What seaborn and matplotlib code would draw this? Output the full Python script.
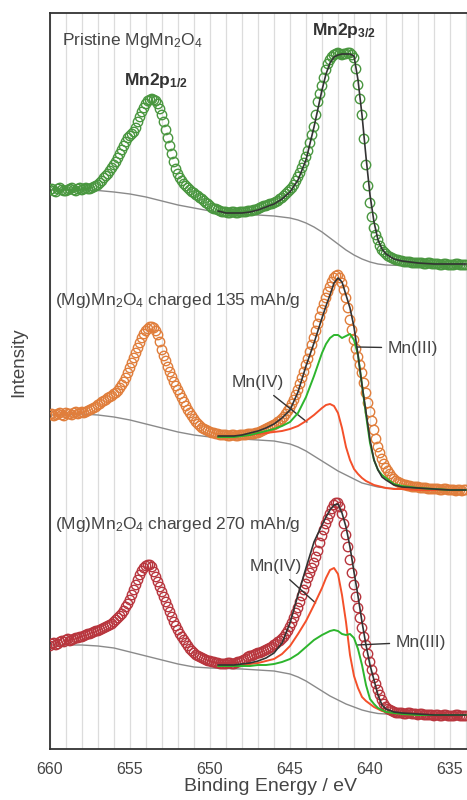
import numpy as np
import pandas as pd
import matplotlib
matplotlib.use("Agg")
import matplotlib.pyplot as plt
from matplotlib.ticker import MultipleLocator
import seaborn as sns

# ---------------- data (binding energy in eV, intensity in arbitrary units) ----------------
energy_start, energy_stop, energy_step = 660.0, 634.0, 0.125

pristine_counts = [
    559, 560, 558, 557, 560, 561, 559, 558,
    558, 559, 560, 561, 559, 558, 560, 561,
    559, 560, 561, 560, 560, 561, 562, 563,
    564, 566, 568, 571, 573, 575, 578, 581,
    584, 587, 591, 595, 599, 603, 607, 611,
    613, 615, 617, 621, 627, 632, 637, 641,
    645, 648, 649, 650, 649, 648, 645, 640,
    634, 627, 619, 611, 603, 595, 587, 580,
    575, 571, 568, 565, 563, 561, 559, 557,
    556, 554, 553, 551, 550, 548, 546, 545,
    543, 541, 540, 540, 539, 538, 537, 537,
    537, 536, 536, 537, 537, 536, 536, 537,
    537, 537, 537, 538, 538, 538, 539, 539,
    540, 541, 542, 543, 543, 544, 545, 545,
    546, 547, 548, 550, 551, 553, 555, 557,
    559, 561, 564, 568, 572, 576, 581, 586,
    592, 598, 606, 614, 622, 634, 647, 655,
    663, 671, 679, 685, 689, 692, 694, 695,
    696, 695, 694, 695, 695, 696, 696, 694,
    691, 680, 664, 650, 634, 610, 584, 563,
    546, 532, 521, 514, 509, 503, 499, 497,
    495, 493, 492, 491, 490, 489, 489, 488,
    488, 487, 487, 487, 487, 486, 486, 486,
    486, 486, 486, 485, 485, 486, 486, 485,
    485, 485, 485, 484, 484, 485, 485, 484,
    484, 484, 484, 485, 485, 484, 484, 484,
    484]
charged135_counts = [
    334, 335, 333, 334, 335, 336, 334, 333,
    336, 335, 335, 334, 336, 337, 335, 336,
    337, 336, 337, 338, 339, 340, 341, 342,
    344, 345, 347, 348, 349, 351, 352, 353,
    355, 356, 358, 361, 364, 367, 371, 376,
    381, 386, 391, 396, 401, 406, 411, 415,
    418, 420, 422, 422, 421, 418, 414, 407,
    399, 393, 388, 382, 377, 372, 367, 363,
    359, 355, 351, 347, 343, 339, 336, 333,
    330, 327, 325, 323, 321, 320, 319, 318,
    317, 316, 316, 315, 315, 314, 314, 314,
    314, 313, 313, 314, 314, 313, 313, 314,
    314, 314, 314, 315, 315, 315, 315, 316,
    316, 317, 318, 319, 320, 321, 322, 323,
    324, 325, 327, 328, 330, 332, 335, 338,
    341, 345, 349, 354, 359, 365, 371, 377,
    384, 390, 397, 404, 411, 418, 425, 432,
    439, 445, 451, 457, 462, 467, 471, 473,
    474, 471, 466, 459, 451, 441, 429, 419,
    409, 400, 392, 384, 376, 366, 356, 346,
    337, 328, 319, 310, 302, 296, 290, 285,
    281, 278, 275, 272, 270, 268, 267, 266,
    265, 264, 264, 263, 263, 262, 262, 262,
    262, 261, 261, 261, 261, 260, 260, 260,
    260, 260, 260, 259, 259, 260, 260, 259,
    259, 259, 259, 258, 259, 259, 258, 259,
    259]
charged270_counts = [
    103, 105, 106, 104, 105, 107, 108, 107,
    109, 110, 108, 109, 110, 111, 111, 112,
    112, 113, 114, 115, 115, 116, 117, 118,
    118, 119, 120, 121, 122, 123, 124, 125,
    127, 129, 131, 133, 135, 138, 142, 145,
    149, 154, 159, 164, 169, 174, 178, 181,
    183, 184, 184, 182, 177, 172, 167, 162,
    157, 152, 147, 142, 137, 132, 127, 123,
    119, 115, 112, 109, 106, 103, 100, 98,
    96, 94, 93, 92, 91, 90, 89, 88,
    88, 87, 87, 86, 86, 85, 85, 85,
    85, 86, 86, 85, 85, 86, 87, 87,
    88, 89, 90, 92, 93, 93, 94, 95,
    96, 96, 97, 98, 99, 100, 101, 102,
    104, 105, 107, 108, 110, 112, 115, 118,
    122, 126, 131, 136, 141, 147, 153, 159,
    165, 171, 176, 181, 186, 192, 198, 206,
    213, 219, 225, 230, 235, 240, 244, 246,
    246, 242, 235, 225, 214, 202, 189, 176,
    164, 152, 141, 131, 121, 112, 104, 95,
    87, 79, 71, 65, 59, 54, 49, 45,
    42, 40, 39, 38, 37, 36, 36, 36,
    36, 35, 35, 36, 36, 35, 35, 35,
    34, 35, 35, 34, 34, 34, 34, 34,
    33, 34, 34, 33, 33, 34, 34, 33,
    33, 33, 33, 34, 34, 33, 33, 33,
    33]

# fit curves (envelope and components) on a common energy grid
fit_energy = [649.5, 649, 648.5, 648, 647.5, 647, 646.5, 646, 645.5, 645, 644.5, 644,
              643.5, 643, 642.75, 642.5, 642.25, 642, 641.75, 641.5, 641.25, 641,
              640.75, 640.5, 640.25, 640, 639.75, 639.5, 639.25, 639, 638.5, 638,
              637, 636, 635, 634]
pristine_envelope = [538, 536, 536, 536, 537, 539, 542, 545, 550, 557, 569, 589,
                     622, 659, 675, 686, 692, 694, 695, 695, 695, 693,
                     669, 634, 592, 554, 527, 509, 500, 495, 490, 488,
                     486, 485, 485, 485]
charged135_envelope = [313, 313, 313, 314, 316, 318, 321, 325, 331, 339, 357, 383,
                       406, 431, 443, 454, 466, 471, 467, 454, 441, 422,
                       394, 364, 337, 309, 289, 279, 272, 269, 264, 262,
                       261, 260, 259, 259]
charged135_mn3 = [312, 312, 312, 313, 314, 316, 318, 320, 323, 327, 336, 352,
                  373, 396, 405, 411, 414, 414, 411, 413, 415, 409,
                  394, 364, 334, 306, 289, 279, 274, 271, 265, 263,
                  261, 260, 259, 259]
charged135_mn4 = [312, 312, 313, 313, 314, 315, 316, 317, 318, 320, 323, 328,
                  334, 341, 344, 345, 343, 336, 321, 302, 289, 280,
                  275, 271, 268, 266, 264, 263, 262, 261, 260, 260,
                  259, 259, 259, 259]
charged270_envelope = [84, 84, 84, 85, 86, 88, 91, 96, 106, 126, 154, 181,
                       207, 224, 232, 239, 244, 245, 236, 222, 202, 177,
                       153, 127, 104, 84, 69, 54, 44, 40, 37, 36,
                       35, 34, 34, 34]
charged270_mn3 = [83, 83, 83, 83, 83, 84, 84, 85, 87, 90, 95, 102,
                  109, 114, 116, 118, 119, 118, 115, 114, 115, 111,
                  100, 84, 64, 50, 45, 41, 39, 37, 36, 35,
                  34, 34, 34, 34]
charged270_mn4 = [83, 83, 83, 84, 85, 86, 88, 90, 95, 103, 115, 128,
                  144, 161, 171, 179, 181, 175, 154, 127, 94, 73,
                  61, 52, 48, 45, 42, 40, 38, 37, 36, 35,
                  34, 34, 34, 34]

# Shirley-type backgrounds
bg_energy = [660, 659, 658, 657, 656, 655, 654, 653, 652, 651, 650, 649, 648, 647,
             646, 645, 644.5, 644, 643.5, 643, 642.5, 642, 641.5, 641, 640.5, 640,
             639.5, 639, 638, 637, 636, 635, 634]
pristine_bg = [559, 559, 559, 558.5, 557, 555, 552, 548, 544, 541, 538, 536, 535, 534,
               533, 531, 529, 526, 522, 517, 511, 505, 499, 494, 490, 487,
               485, 484, 483.5, 483.5, 483.5, 483.5, 483.5]
charged135_bg = [334, 334, 335, 334, 332, 329, 325, 321, 317, 314, 312, 311, 310, 309,
                 308, 305, 302, 298, 293, 288, 283, 278, 274, 270, 266, 264,
                 262, 261, 260, 260, 260, 260, 260]
charged270_bg = [104, 104, 104, 103, 101, 97, 93, 89, 85, 82, 81, 80.5, 80, 79,
                 78, 75, 72, 68, 63, 58, 53, 49, 45, 42, 39, 37,
                 35.5, 35, 34, 34, 34, 34, 34]

xtick_values = [660, 655, 650, 645, 640, 635]
xtick_minor = 1

# ---------------- styling ----------------
sns.set_style("white")
plt.rcParams["font.family"] = ["Liberation Sans", "DejaVu Sans"]
plt.rcParams["mathtext.fontset"] = "custom"
plt.rcParams["mathtext.rm"] = "Liberation Sans"
plt.rcParams["mathtext.bf"] = "Liberation Sans:bold"
plt.rcParams["mathtext.it"] = "Liberation Sans:italic"

TXT = "#454545"
GREEN_PTS = "#4a9740"
ORANGE_PTS = "#e07e3c"
RED_PTS = "#b8363e"
MN3 = "#2db52d"
MN4 = "#f4502a"
ENV = "#333333"
BG = "#8a8a8a"

energy = np.arange(energy_start, energy_stop - 1e-9, -energy_step)
assert len(energy) == len(pristine_counts) == len(charged135_counts) == len(charged270_counts)

fig = plt.figure(figsize=(4.67, 8.0), dpi=100)
ax = fig.add_axes([50 / 467, 51 / 800, 480 / 467, 736 / 800])

# backgrounds
for bg in [pristine_bg, charged135_bg, charged270_bg]:
    sns.lineplot(x=bg_energy, y=bg, ax=ax, color=BG, lw=1.0, estimator=None, zorder=2)

# measured points
for counts, col in [(pristine_counts, GREEN_PTS), (charged135_counts, ORANGE_PTS),
                    (charged270_counts, RED_PTS)]:
    sns.scatterplot(x=energy, y=counts, ax=ax, marker="o", s=46, facecolor="none",
                    edgecolor=col, linewidth=1.0, zorder=3, legend=False)

# components
for comp, col in [(charged135_mn4, MN4), (charged135_mn3, MN3),
                  (charged270_mn4, MN4), (charged270_mn3, MN3)]:
    sns.lineplot(x=fit_energy, y=comp, ax=ax, color=col, lw=1.4, estimator=None, zorder=4)

# envelopes
for env in [pristine_envelope, charged135_envelope, charged270_envelope]:
    sns.lineplot(x=fit_energy, y=env, ax=ax, color=ENV, lw=1.2, estimator=None, zorder=5)

ax.set_xlim(660, 630)
ax.set_ylim(0, 736)
ax.set_xticks(xtick_values)
ax.set_xticklabels([str(v) for v in xtick_values])
ax.xaxis.set_minor_locator(MultipleLocator(xtick_minor))
ax.grid(which="both", axis="x", color="#dcdcdc", lw=0.9, zorder=0)
ax.grid(which="both", axis="y", visible=False)
ax.set_axisbelow(True)
ax.set_yticks([])
ax.tick_params(axis="x", which="major", direction="in", length=4.5, width=1.0,
               color="#333333", labelsize=11.5, labelcolor=TXT, pad=9, top=False)
ax.tick_params(axis="x", which="minor", direction="in", length=2.5, width=0.9,
               color="#333333", top=False)
for side in ["left", "bottom", "top", "right"]:
    ax.spines[side].set_color("#333333")
    ax.spines[side].set_linewidth(1.3)

ax.set_xlabel("Binding Energy / eV", fontsize=14, color=TXT)
ax.xaxis.set_label_coords((271 - 50) / 480, -0.040)
ax.set_ylabel("Intensity", fontsize=13.5, color=TXT)
ax.yaxis.set_label_coords(-0.048, 0.526)

# texts
ax.text(659.25, 709, r"Pristine MgMn$_2$O$_4$", fontsize=12.5, color=TXT, va="center", ha="left")
ax.text(653.4, 669, r"Mn2p$_{\mathbf{1/2}}$", fontsize=12.5, color="#333333", fontweight="bold",
        va="center", ha="center")
ax.text(641.6, 719, r"Mn2p$_{\mathbf{3/2}}$", fontsize=12.5, color="#333333", fontweight="bold",
        va="center", ha="center")
ax.text(659.7, 449, r"(Mg)Mn$_2$O$_4$ charged 135 mAh/g", fontsize=12.5, color=TXT,
        va="center", ha="left")
ax.text(659.7, 224, r"(Mg)Mn$_2$O$_4$ charged 270 mAh/g", fontsize=12.5, color=TXT,
        va="center", ha="left")

arrow = dict(arrowstyle="-", color="#333333", lw=1.0, shrinkA=2, shrinkB=0)
ax.annotate("Mn(III)", xy=(640.8, 402), xytext=(638.9, 401), fontsize=12.5, color=TXT,
            ha="left", va="center", arrowprops=arrow)
ax.annotate("Mn(IV)", xy=(643.94, 327), xytext=(647.0, 366), fontsize=12.5, color=TXT,
            ha="center", va="center", arrowprops=arrow)
ax.annotate("Mn(IV)", xy=(643.4, 146), xytext=(645.9, 182), fontsize=12.5, color=TXT,
            ha="center", va="center", arrowprops=arrow)
ax.annotate("Mn(III)", xy=(640.8, 104), xytext=(638.4, 107), fontsize=12.5, color=TXT,
            ha="left", va="center", arrowprops=arrow)

fig.savefig("out.png", dpi=100)
